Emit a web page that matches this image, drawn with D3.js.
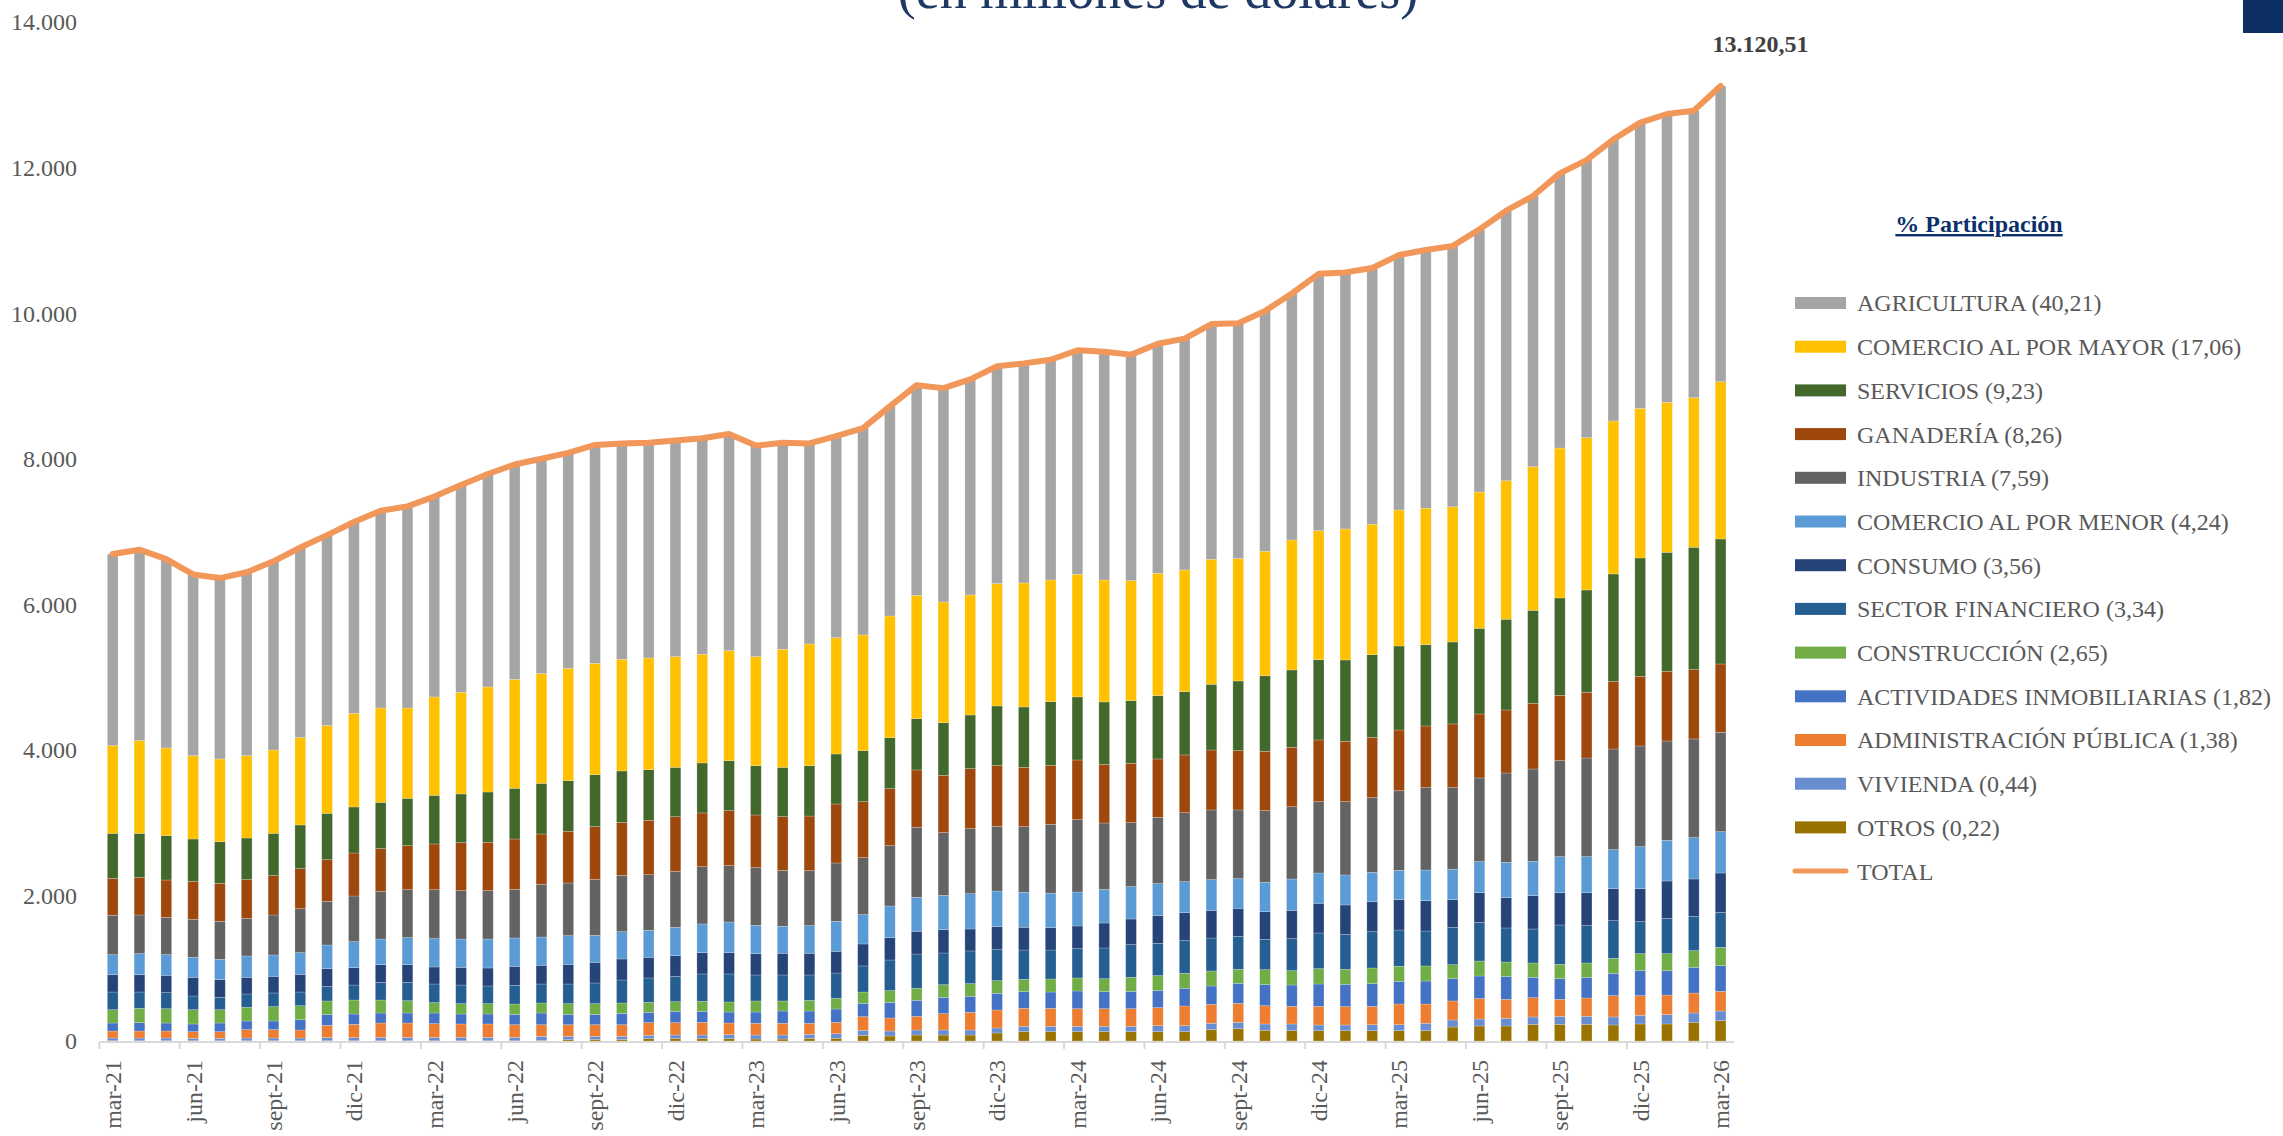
<!DOCTYPE html>
<html lang="es">
<head>
<meta charset="utf-8">
<title>Cartera por sector</title>
<script src="https://cdn.jsdelivr.net/npm/d3@7"></script>
<style>
  html, body { margin: 0; padding: 0; background: #ffffff; }
  svg { display: block; }
  text { font-family: "Liberation Serif", "DejaVu Serif", serif; }
</style>
</head>
<body>
<svg id="chart" width="2283" height="1136"></svg>
<script>
// Meses (mar-21 a mar-26)
const months = [
  "mar-21","abr-21","may-21","jun-21","jul-21","ago-21","sept-21","oct-21","nov-21","dic-21",
  "ene-22","feb-22","mar-22","abr-22","may-22","jun-22","jul-22","ago-22","sept-22","oct-22",
  "nov-22","dic-22","ene-23","feb-23","mar-23","abr-23","may-23","jun-23","jul-23","ago-23",
  "sept-23","oct-23","nov-23","dic-23","ene-24","feb-24","mar-24","abr-24","may-24","jun-24",
  "jul-24","ago-24","sept-24","oct-24","nov-24","dic-24","ene-25","feb-25","mar-25","abr-25",
  "may-25","jun-25","jul-25","ago-25","sept-25","oct-25","nov-25","dic-25","ene-26","feb-26",
  "mar-26"
];

// Saldos por sector (millones de dólares), de abajo hacia arriba en la pila
const otros = [4,4,4,4,4,4,4,4,4,4, 4,4,4,4,4,4,8,18,23,23, 32,37,37,32,27,27,37,37,78,69,
  82,82,82,110,128,128,128,128,128,128, 128,156,169,147,142,142,142,142,142,142,
  192,206,206,229,229,229,220,234,234,256, 279];
const vivienda = [37,37,37,33,33,37,37,37,42,42, 46,46,46,46,46,46,56,46,41,41, 46,45,45,55,55,55,55,64,69,68,
  69,69,69,69,74,74,74,74,74,83, 83,87,87,87,92,78,78,82,82,101,
  97,96,105,101,110,110,110,119,128,129, 133];
const administracion = [96,96,96,91,91,115,115,110,169,183, 197,197,188,184,184,174,160,160,160,160,
  174,170,174,160,161,161,151,155,187,179, 188,225,243,247,247,247,242,242,242,247,
  270,261,261,251,242,256,252,252,284,265, 261,280,261,265,233,252,293,270,270,274, 270];
const inmobiliarias = [110,115,110,106,119,119,119,142,147,142, 138,138,147,137,137,142,161,142,142,156,
  142,156,152,151,155,169,169,184,184,215, 220,224,220,229,229,224,243,234,238,234,
  243,252,275,289,293,307,307,312,312,316, 311,311,316,279,284,283,307,343,334,353, 353];
const construccion = [183,197,197,196,183,188,197,192,188,192, 178,169,142,142,142,142,137,147,147,142,
  137,132,137,138,152,138,147,146,155,161, 165,174,174,174,169,179,179,178,193,206,
  206,206,193,206,197,211,206,215,206,207, 188,206,197,198,197,198,206,234,234,229, 252];
const financiero = [243,224,220,188,170,183,188,188,201,206, 243,252,256,256,243,257,261,270,284,316,
  335,349,376,385,357,357,348,348,358,421, 471,435,449,426,403,398,403,422,449,444,
  449,453,453,417,440,490,481,499,499,480, 513,531,468,467,541,513,517,440,485,472, 481];
const consumo = [238,238,238,257,243,229,229,243,243,239, 243,243,234,243,247,261,257,270,284,289,
  284,284,293,293,293,298,298,298,302,307, 312,321,302,316,312,307,311,343,352,380,
  384,380,385,380,389,408,403,412,417,417, 380,408,416,458,444,453,440,453,513,513, 540];
const comercioMenor = [275,289,284,275,279,293,293,298,325,357, 352,371,389,389,398,389,389,394,371,375,
  371,389,394,421,389,371,380,412,403,435, 467,471,485,490,481,472,467,463,445,440,
  426,422,407,403,431,416,412,403,402,421, 417,426,486,471,495,495,536,577,559,568, 568];
const industria = [541,531,513,522,522,517,549,604,600,627, 655,659,673,665,665,669,724,724,769,774,
  764,769,787,774,793,769,755,802,783,829, 962,862,893,889,903,948,994,911,879,911,
  948,957,944,985,993,980,1007,1026,1095,1132, 1122,1150,1227,1269,1319,1355,1383,1383,1365,1356, 1365];
const ganaderia = [508,518,513,522,522,532,541,550,572,591, 587,605,628,659,664,691,691,710,724,728,
  747,751,738,756,723,737,751,810,769,783, 788,787,825,838,814,811,820,806,815,802,
  793,824,815,815,816,848,829,829,834,847, 875,879,866,903,897,903,930,957,957,952, 939];
const servicios = [618,604,609,581,573,572,581,600,637,632, 636,650,668,669,691,697,696,696,714,706,
  696,678,687,687,678,678,692,687,701,701, 705,724,737,815,829,874,866,857,861,870,
  870,903,957,1038,1063,1103,1118,1136,1154,1118, 1126,1177,1246,1277,1338,1406,1475,1626,1635,1681, 1717];
const comercioMayor = [1205,1274,1205,1145,1136,1131,1145,1200,1205,1287, 1296,1241,1352,1397,1443,1497,1507,1543,1530,1534,
  1534,1521,1493,1511,1498,1622,1672,1599,1590,1671, 1694,1658,1649,1681,1704,1672,1685,1676,1649,1681,
  1672,1717,1681,1710,1786,1773,1800,1791,1868,1874, 1858,1872,1904,1973,2060,2092,2101,2056,2061,2055, 2161];
const agricultura = [2632,2623,2594,2490,2485,2520,2592,2612,2617,2628, 2710,2770,2753,2849,2926,2951,2953,2960,3001,2966,
  2958,2969,2967,2977,2899,2838,2755,2768,2841,2881, 2887,2938,2962,2986,3017,3026,3078,3136,3105,3154,
  3178,3232,3233,3302,3386,3528,3525,3521,3503,3547, 3582,3609,3709,3719,3773,3814,3869,3925,3961,3944, 4062.51];

// Series: clave, etiqueta de leyenda, color (orden de apilado, de abajo hacia arriba)
const seriesKeys = ["otros","vivienda","administracion","inmobiliarias","construccion","financiero",
  "consumo","comercioMenor","industria","ganaderia","servicios","comercioMayor","agricultura"];
const seriesLabels = ["OTROS (0,22)","VIVIENDA (0,44)","ADMINISTRACIÓN PÚBLICA (1,38)",
  "ACTIVIDADES INMOBILIARIAS (1,82)","CONSTRUCCIÓN (2,65)","SECTOR FINANCIERO (3,34)","CONSUMO (3,56)",
  "COMERCIO AL POR MENOR (4,24)","INDUSTRIA (7,59)","GANADERÍA (8,26)","SERVICIOS (9,23)",
  "COMERCIO AL POR MAYOR (17,06)","AGRICULTURA (40,21)"];
const seriesColors = ["#997300","#698ED0","#ED7D31","#4472C4","#70AD47","#255E91","#264478",
  "#5B9BD5","#636363","#9E480E","#43682B","#FFC000","#A5A5A5"];
const seriesValues = [otros, vivienda, administracion, inmobiliarias, construccion, financiero,
  consumo, comercioMenor, industria, ganaderia, servicios, comercioMayor, agricultura];

const yTicks = [0, 2000, 4000, 6000, 8000, 10000, 12000, 14000];
const totalLabel = "TOTAL";
const totalColor = "#F1975A";

// Tabla para d3.stack
const table = months.map((m, i) => {
  const row = { month: m };
  seriesKeys.forEach((k, s) => { row[k] = seriesValues[s][i]; });
  return row;
});
const totals = table.map(r => d3.sum(seriesKeys, k => r[k]));

const locale = d3.formatLocale({ decimal: ",", thousands: ".", grouping: [3], currency: ["$", ""] });
const fmtInt = locale.format(",.0f");
const fmtDec = locale.format(",.2f");

const svg = d3.select("#chart");
const W = 2283, H = 1136;
svg.append("rect").attr("width", W).attr("height", H).attr("fill", "#ffffff");

const plot = { left: 99.3, right: 1734, top: 22, bottom: 1041 };

const x = d3.scaleBand().domain(months).range([plot.left, plot.right])
  .paddingInner(0.6).paddingOuter(0.3);
const y = d3.scaleLinear().domain([0, 14000]).range([plot.bottom, plot.top]);

// Título (parte inferior visible)
svg.append("text")
  .attr("x", 1158).attr("y", 8)
  .attr("text-anchor", "middle")
  .attr("font-size", 54)
  .attr("fill", "#1F3864")
  .text("(en millones de dólares)");

// Bloque decorativo superior derecho
svg.append("rect").attr("x", 2243).attr("y", 0).attr("width", 40).attr("height", 33).attr("fill", "#0B2F62");

// Eje Y (solo etiquetas)
svg.append("g").selectAll("text").data(yTicks).join("text")
  .attr("x", 77).attr("y", d => y(d)).attr("dy", "0.35em")
  .attr("text-anchor", "end").attr("font-size", 24).attr("fill", "#595959")
  .text(d => fmtInt(d));

// Barras apiladas
const stack = d3.stack().keys(seriesKeys);
const layers = stack(table);
svg.append("g").selectAll("g").data(layers).join("g")
  .attr("fill", (d, i) => seriesColors[i])
  .selectAll("rect").data(d => d).join("rect")
  .attr("x", d => x(d.data.month))
  .attr("width", x.bandwidth())
  .attr("y", d => y(d[1]))
  .attr("height", d => Math.max(0, y(d[0]) - y(d[1])))
  .attr("stroke", "#ffffff").attr("stroke-opacity", 0.3).attr("stroke-width", 0.7);

// Eje X
const step = x.step();
const x0 = x.range()[0];
svg.append("line")
  .attr("x1", x0).attr("x2", x.range()[1])
  .attr("y1", plot.bottom + 1).attr("y2", plot.bottom + 1)
  .attr("stroke", "#D9D9D9").attr("stroke-width", 2);
const tickIdx = months.map((m, i) => i).filter(i => i % 3 === 0);
svg.append("g").selectAll("line").data(tickIdx).join("line")
  .attr("x1", i => x0 + i * step).attr("x2", i => x0 + i * step)
  .attr("y1", plot.bottom + 1).attr("y2", plot.bottom + 8)
  .attr("stroke", "#D9D9D9").attr("stroke-width", 2);
svg.append("g").selectAll("text").data(tickIdx).join("text")
  .attr("transform", i => `translate(${x(months[i]) + x.bandwidth() / 2},1060) rotate(-90)`)
  .attr("dy", "0.35em")
  .attr("text-anchor", "end").attr("font-size", 24).attr("fill", "#595959")
  .text(i => months[i]);

// Línea de total
const line = d3.line()
  .x((d, i) => x(months[i]) + x.bandwidth() / 2)
  .y(d => y(d));
svg.append("path").datum(totals)
  .attr("d", line)
  .attr("fill", "none").attr("stroke", totalColor).attr("stroke-width", 6)
  .attr("stroke-linejoin", "round").attr("stroke-linecap", "round");

// Etiqueta del último total
const lastI = totals.length - 1;
svg.append("text")
  .attr("x", x(months[lastI]) + x.bandwidth() / 2 + 40)
  .attr("y", y(totals[lastI]) - 34)
  .attr("text-anchor", "middle").attr("font-size", 24).attr("font-weight", "bold")
  .attr("fill", "#404040")
  .text(fmtDec(totals[lastI]));

// Leyenda
const legend = svg.append("g");
legend.append("text")
  .attr("x", 1979).attr("y", 232).attr("text-anchor", "middle")
  .attr("font-size", 24).attr("font-weight", "bold").attr("fill", "#0B2F6B")
  .attr("text-decoration", "underline")
  .text("% Participación");
const legendItems = seriesKeys.map((k, i) => ({ label: seriesLabels[i], color: seriesColors[i] })).reverse();
legendItems.push({ label: totalLabel, color: totalColor, isLine: true });
const rowY = i => 303 + i * 43.7;
legendItems.forEach((d, i) => {
  if (d.isLine) {
    legend.append("line").attr("x1", 1795).attr("x2", 1846)
      .attr("y1", rowY(i)).attr("y2", rowY(i))
      .attr("stroke", d.color).attr("stroke-width", 5).attr("stroke-linecap", "round");
  } else {
    legend.append("rect").attr("x", 1795).attr("y", rowY(i) - 6)
      .attr("width", 51).attr("height", 12).attr("fill", d.color);
  }
  legend.append("text").attr("x", 1857).attr("y", rowY(i)).attr("dy", "0.35em")
    .attr("font-size", 24).attr("fill", "#595959").text(d.label);
});
</script>
</body>
</html>
